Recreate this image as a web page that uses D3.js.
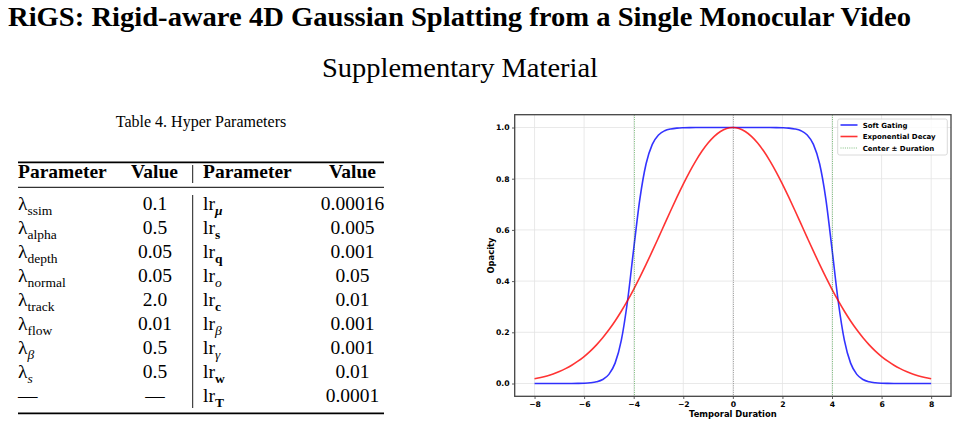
<!DOCTYPE html>
<html lang="en">

<head>
    <meta charset="UTF-8">
    <title>RiGS Supplementary</title>
    <script src="https://d3js.org/d3.v7.min.js"></script>
    <style>
        body {
            margin: 0;
            background: #fff;
        }

        .serif {
            font-family: 'Liberation Serif', 'Times New Roman', serif;
            fill: #000;
        }

        .plot text {
            font-family: 'DejaVu Sans', sans-serif;
            font-weight: bold;
            fill: #000;
        }

        .tick text {
            font-size: 7.7px;
        }

        .domain {
            opacity: 0;
        }

        .tick line {
            stroke: #333;
            stroke-width: 0.8;
        }

        .grid line {
            stroke: #e3e3e3;
            stroke-width: 0.8;
        }

        .label {
            font-size: 8.4px;
            text-anchor: middle;
        }

        .legend text {
            font-size: 7px;
        }
    </style>
</head>

<body>
    <svg id="page" width="958" height="425"></svg>
    <script>
        // table contents
        const leftSubs = ["ssim", "alpha", "depth", "normal", "track", "flow", "β", "s", null];
        const leftValues = ["0.1", "0.5", "0.05", "0.05", "2.0", "0.01", "0.5", "0.5", "—"];
        const rightSubs = ["μ", "s", "q", "o", "c", "β", "γ", "w", "T"];
        const rightValues = ["0.00016", "0.005", "0.001", "0.05", "0.01", "0.001", "0.001", "0.01", "0.0001"];

        // curve samples
        const tValues = [-8, -7.75, -7.5, -7.25, -7, -6.75, -6.5, -6.25, -6, -5.75, -5.5, -5.25, -5, -4.75, -4.5, -4.25,
            -4, -3.75, -3.5, -3.25, -3, -2.75, -2.5, -2.25, -2, -1.75, -1.5, -1.25, -1, -0.75, -0.5, -0.25,
            0, 0.25, 0.5, 0.75, 1, 1.25, 1.5, 1.75, 2, 2.25, 2.5, 2.75, 3, 3.25, 3.5, 3.75,
            4, 4.25, 4.5, 4.75, 5, 5.25, 5.5, 5.75, 6, 6.25, 6.5, 6.75, 7, 7.25, 7.5, 7.75, 8];
        const softGating = [0, 0, 0, 0, 0, 0.0001, 0.0002, 0.0005, 0.0012, 0.0029, 0.0067, 0.0155, 0.0357, 0.0795, 0.1683, 0.3213,
            0.5255, 0.7215, 0.8584, 0.9341, 0.9708, 0.9873, 0.9945, 0.9977, 0.9990, 0.9996, 0.9998, 0.9999, 1, 1, 1, 1,
            1, 1, 1, 1, 1, 0.9999, 0.9998, 0.9996, 0.9990, 0.9977, 0.9945, 0.9873, 0.9708, 0.9341, 0.8584, 0.7215,
            0.5255, 0.3213, 0.1683, 0.0795, 0.0357, 0.0155, 0.0067, 0.0029, 0.0012, 0.0005, 0.0002, 0.0001, 0, 0, 0, 0, 0];
        const expDecay = [0.0183, 0.0234, 0.0297, 0.0374, 0.0468, 0.0580, 0.0713, 0.0871, 0.1054, 0.1266, 0.1510, 0.1786, 0.2096, 0.2441, 0.2821, 0.3234,
            0.3679, 0.4152, 0.4650, 0.5168, 0.5698, 0.6233, 0.6766, 0.7288, 0.7788, 0.8258, 0.8688, 0.9070, 0.9394, 0.9655, 0.9845, 0.9961,
            1.0, 0.9961, 0.9845, 0.9655, 0.9394, 0.9070, 0.8688, 0.8258, 0.7788, 0.7288, 0.6766, 0.6233, 0.5698, 0.5168, 0.4650, 0.4152,
            0.3679, 0.3234, 0.2821, 0.2441, 0.2096, 0.1786, 0.1510, 0.1266, 0.1054, 0.0871, 0.0713, 0.0580, 0.0468, 0.0374, 0.0297, 0.0234, 0.0183];
        const centerLines = [-4, 0, 4];
        const xTicks = [-8, -6, -4, -2, 0, 2, 4, 6, 8];
        const yTicks = [0, 0.2, 0.4, 0.6, 0.8, 1.0];
        const legendLabels = ["Soft Gating", "Exponential Decay", "Center ± Duration"];

        const page = d3.select("#page");
        page.append("rect").attr("width", 958).attr("height", 425).attr("fill", "#fff");

        // headings
        page.append("text")
            .attr("class", "serif")
            .attr("x", 8).attr("y", 26)
            .attr("textLength", 903).attr("lengthAdjust", "spacingAndGlyphs")
            .style("font-size", "28px").style("font-weight", "bold")
            .text("RiGS: Rigid-aware 4D Gaussian Splatting from a Single Monocular Video");

        page.append("text")
            .attr("class", "serif")
            .attr("x", 322).attr("y", 77)
            .attr("textLength", 276).attr("lengthAdjust", "spacingAndGlyphs")
            .style("font-size", "27px")
            .text("Supplementary Material");

        // ---- table ----
        const table = page.append("g").attr("class", "serif");
        const tableLeft = 18, tableRight = 384;
        const firstBaseline = 210, rowStep = 24;
        const fs = 19.5, subFs = 13.5;

        table.append("text")
            .attr("class", "serif")
            .attr("x", 201).attr("y", 127)
            .attr("text-anchor", "middle")
            .style("font-size", "16px")
            .text("Table 4. Hyper Parameters");

        [[162.3, 1.8], [187.3, 1], [413.3, 1.8]].forEach(([y, w]) => {
            table.append("line")
                .attr("x1", tableLeft).attr("x2", tableRight)
                .attr("y1", y).attr("y2", y)
                .attr("stroke", "#000").attr("stroke-width", w);
        });
        [[165, 183], [195, 408]].forEach(([y1, y2]) => {
            table.append("line")
                .attr("x1", 192.7).attr("x2", 192.7)
                .attr("y1", y1).attr("y2", y2)
                .attr("stroke", "#000").attr("stroke-width", 0.9);
        });

        const headers = [["Parameter", 18, "start"], ["Value", 154.5, "middle"], ["Parameter", 203, "start"], ["Value", 352.5, "middle"]];
        headers.forEach(([t, x, anchor]) => {
            table.append("text")
                .attr("x", x).attr("y", 177.5)
                .attr("text-anchor", anchor)
                .style("font-size", fs + "px").style("font-weight", "bold")
                .text(t);
        });

        // how each subscript is set in the math
        const leftSubStyle = ["rm", "rm", "rm", "rm", "rm", "rm", "it", "it", null];
        const rightSubStyle = ["bi", "bf", "bf", "it", "bf", "it", "it", "bf", "bf"];

        function styleSub(ts, kind) {
            if (kind === "it" || kind === "bi") ts.style("font-style", "italic");
            if (kind === "bf" || kind === "bi") ts.style("font-weight", "bold");
        }

        leftSubs.forEach((sub, i) => {
            const y = firstBaseline + i * rowStep;
            const t = table.append("text").attr("x", tableLeft).attr("y", y).style("font-size", fs + "px");
            if (sub === null) {
                t.attr("x", 18).text("—").attr("textLength", 20);
            } else {
                t.append("tspan").text("λ");
                const ts = t.append("tspan").attr("dy", 4.5).style("font-size", subFs + "px").text(sub);
                styleSub(ts, leftSubStyle[i]);
            }
            table.append("text")
                .attr("x", 155).attr("y", y)
                .attr("text-anchor", "middle")
                .style("font-size", fs + "px")
                .text(leftValues[i]);
        });

        rightSubs.forEach((sub, i) => {
            const y = firstBaseline + i * rowStep;
            const t = table.append("text").attr("x", 203).attr("y", y).style("font-size", fs + "px");
            t.append("tspan").text("lr");
            const ts = t.append("tspan").attr("dy", 4.5).style("font-size", subFs + "px").text(sub);
            styleSub(ts, rightSubStyle[i]);
            table.append("text")
                .attr("x", 352.5).attr("y", y)
                .attr("text-anchor", "middle")
                .style("font-size", fs + "px")
                .text(rightValues[i]);
        });

        // ---- plot ----
        const plot = page.append("g").attr("class", "plot");
        const box = { left: 514.7, right: 951, top: 114.7, bottom: 396.3 };

        const scaleX = d3.scaleLinear().domain([-8.8, 8.8]).range([box.left, box.right]);
        const scaleY = d3.scaleLinear().domain([-0.05, 1.05]).range([box.bottom, box.top]);

        const grid = plot.append("g").attr("class", "grid");
        grid.selectAll("line.gx").data(xTicks).enter().append("line")
            .attr("x1", d => scaleX(d)).attr("x2", d => scaleX(d))
            .attr("y1", box.top).attr("y2", box.bottom);
        grid.selectAll("line.gy").data(yTicks).enter().append("line")
            .attr("x1", box.left).attr("x2", box.right)
            .attr("y1", d => scaleY(d)).attr("y2", d => scaleY(d));

        const points = tValues.map((t, i) => ({ t: t, soft: softGating[i], exp: expDecay[i] }));

        const line = key => d3.line()
            .x(d => scaleX(d.t))
            .y(d => scaleY(d[key]))
            .curve(d3.curveMonotoneX);

        plot.append("path").datum(points)
            .attr("d", line("soft"))
            .attr("fill", "none").attr("stroke", "#0000ff").attr("stroke-opacity", 0.8).attr("stroke-width", 1.6);
        plot.append("path").datum(points)
            .attr("d", line("exp"))
            .attr("fill", "none").attr("stroke", "#ff0000").attr("stroke-opacity", 0.8).attr("stroke-width", 1.6);

        plot.selectAll("line.vline").data(centerLines).enter().append("line")
            .attr("x1", d => Math.round(scaleX(d)) + 0.5).attr("x2", d => Math.round(scaleX(d)) + 0.5)
            .attr("y1", box.top).attr("y2", box.bottom)
            .attr("stroke", d => d === 0 ? "#808080" : "#008000")
            .attr("stroke-opacity", d => d === 0 ? 0.75 : 0.5)
            .attr("stroke-width", 1)
            .attr("stroke-dasharray", "1,1.2");

        // axes
        const xAxis = d3.axisBottom(scaleX).tickValues(xTicks).tickSize(2.7).tickPadding(2.5)
            .tickFormat(d => d < 0 ? "\u2212" + Math.abs(d) : d);
        const yAxis = d3.axisLeft(scaleY).tickValues(yTicks).tickSize(2.7).tickPadding(2.5)
            .tickFormat(d3.format(".1f"));

        plot.append("g").attr("transform", `translate(0,${box.bottom})`).call(xAxis);
        plot.append("g").attr("transform", `translate(${box.left},0)`).call(yAxis);

        plot.append("rect")
            .attr("x", box.left).attr("y", box.top)
            .attr("width", box.right - box.left).attr("height", box.bottom - box.top)
            .attr("fill", "none").attr("stroke", "#444").attr("stroke-width", 1.3);

        plot.append("text").attr("class", "label")
            .attr("x", (box.left + box.right) / 2).attr("y", 417)
            .text("Temporal Duration");
        plot.append("text").attr("class", "label")
            .attr("transform", `translate(493.5,${(box.top + box.bottom) / 2})rotate(-90)`)
            .text("Opacity");

        // legend
        const legend = plot.append("g").attr("class", "legend");
        legend.append("rect")
            .attr("x", 837.7).attr("y", 119).attr("width", 109.6).attr("height", 36)
            .attr("rx", 2)
            .attr("fill", "#fff").attr("fill-opacity", 0.8)
            .attr("stroke", "#d0d0d0").attr("stroke-width", 0.8);
        const legendStroke = ["#0000ff", "#ff0000", "#008000"];
        legendLabels.forEach((label, i) => {
            const y = 125 + i * 11.5;
            legend.append("line")
                .attr("x1", 840.5).attr("x2", 857.5).attr("y1", y).attr("y2", y)
                .attr("stroke", legendStroke[i])
                .attr("stroke-opacity", i === 2 ? 0.5 : 0.8)
                .attr("stroke-width", i === 2 ? 1 : 1.6)
                .attr("stroke-dasharray", i === 2 ? "1,1.2" : null);
            legend.append("text")
                .attr("x", 862.7).attr("y", y + 2.5)
                .text(label);
        });
    </script>
</body>

</html>
